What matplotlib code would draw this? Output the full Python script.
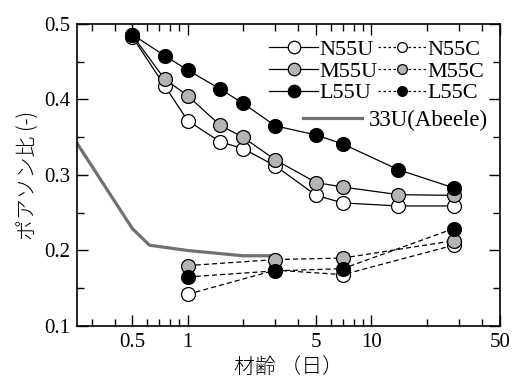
import numpy as np
import matplotlib
matplotlib.use("Agg")
import matplotlib.pyplot as plt
from matplotlib.lines import Line2D
from matplotlib.ticker import FixedLocator, NullFormatter, FormatStrFormatter

plt.rcParams['font.family'] = ['Liberation Serif', 'Noto Sans CJK JP']
plt.rcParams['xtick.direction'] = 'in'
plt.rcParams['ytick.direction'] = 'in'

# material age (days)
age_u = [0.5, 0.75, 1, 1.5, 2, 3, 5, 7, 14, 28]
age_c = [1, 3, 7, 28]
age_ab = [0.25, 0.5, 0.62, 1, 2, 3]

n55u = [0.483, 0.418, 0.372, 0.344, 0.335, 0.312, 0.273, 0.263, 0.259, 0.259]
m55u = [0.485, 0.427, 0.405, 0.366, 0.350, 0.320, 0.290, 0.284, 0.274, 0.273]
l55u = [0.486, 0.458, 0.439, 0.414, 0.395, 0.365, 0.353, 0.341, 0.307, 0.283]

n55c = [0.142, 0.174, 0.168, 0.207]
m55c = [0.180, 0.188, 0.190, 0.213]
l55c = [0.165, 0.173, 0.176, 0.229]

abeele = [0.342, 0.229, 0.207, 0.200, 0.193, 0.193]

fig = plt.figure(figsize=(5.17, 3.78), dpi=100)
ax = fig.add_axes([0.149, 0.1376, 0.818, 0.7989])

ax.plot(age_ab, abeele, color='#707070', lw=2.3, zorder=1)

ms = 10
style = dict(color='k', lw=0.9, markersize=ms, markeredgecolor='k', markeredgewidth=0.9)
ax.plot(age_u, n55u, 'o-', markerfacecolor='white', **style)
ax.plot(age_u, m55u, 'o-', markerfacecolor='#b4b4b4', **style)
ax.plot(age_u, l55u, 'o-', markerfacecolor='black', **style)
ax.plot(age_c, n55c, 'o--', markerfacecolor='white', dashes=(4, 2.5), **style)
ax.plot(age_c, m55c, 'o--', markerfacecolor='#b4b4b4', dashes=(4, 2.5), **style)
ax.plot(age_c, l55c, 'o--', markerfacecolor='black', dashes=(4, 2.5), **style)

ax.set_xscale('log')
ax.set_xlim(0.25, 50)
ax.set_ylim(0.1, 0.5)
ax.xaxis.set_major_locator(FixedLocator([0.5, 1, 5, 10, 50]))
ax.set_xticklabels(['0.5', '1', '5', '10', '50'])
minor = [0.3, 0.4, 0.6, 0.7, 0.8, 0.9, 2, 3, 4, 6, 7, 8, 9, 20, 30, 40]
ax.xaxis.set_minor_locator(FixedLocator(minor))
ax.xaxis.set_minor_formatter(NullFormatter())
ax.yaxis.set_major_locator(FixedLocator([0.1, 0.2, 0.3, 0.4, 0.5]))
ax.yaxis.set_major_formatter(FormatStrFormatter('%.1f'))
ax.yaxis.set_minor_locator(FixedLocator([0.15, 0.25, 0.35, 0.45]))
ax.tick_params(which='both', top=True, right=True, labelsize=15, width=1)
ax.tick_params(which='major', length=8, pad=5)
ax.tick_params(which='minor', length=5)
for s in ax.spines.values():
    s.set_linewidth(1.2)

ax.set_xlabel('材齢 （日）', fontsize=15, family='Noto Sans CJK JP', fontweight='light', labelpad=3)
ax.set_ylabel('ポアソン比 (-)', fontsize=15, family='Noto Sans CJK JP', fontweight='light', labelpad=3)

hs = dict(color='k', lw=0.9, markeredgecolor='k', markeredgewidth=0.9)
h_nu = Line2D([], [], marker='o', ls='-', markersize=9, markerfacecolor='white', **hs)
h_mu = Line2D([], [], marker='o', ls='-', markersize=9, markerfacecolor='#b4b4b4', **hs)
h_lu = Line2D([], [], marker='o', ls='-', markersize=9, markerfacecolor='black', **hs)
h_nc = Line2D([], [], marker='o', ls='--', dashes=(2, 2), markersize=7, markerfacecolor='white', **hs)
h_mc = Line2D([], [], marker='o', ls='--', dashes=(2, 2), markersize=7, markerfacecolor='#b4b4b4', **hs)
h_lc = Line2D([], [], marker='o', ls='--', dashes=(2, 2), markersize=7, markerfacecolor='black', **hs)

leg1 = ax.legend([h_nu, h_mu, h_lu, h_nc, h_mc, h_lc],
                 ['N55U', 'M55U', 'L55U', 'N55C', 'M55C', 'L55C'],
                 ncol=2, frameon=False, fontsize=16, handlelength=2.2,
                 handletextpad=0.05, columnspacing=0.0, labelspacing=0.05,
                 loc='upper right', bbox_to_anchor=(1.0, 1.0), borderpad=0.2)
ax.add_artist(leg1)
h_ab = Line2D([], [], color='#707070', lw=2.3)
ax.legend([h_ab], ['33U(Abeele)'], frameon=False, fontsize=16.5, handlelength=2.6,
          handletextpad=0.3, loc='upper right', bbox_to_anchor=(1.01, 0.77), borderpad=0.2)

fig.savefig('out.png', dpi=100)
